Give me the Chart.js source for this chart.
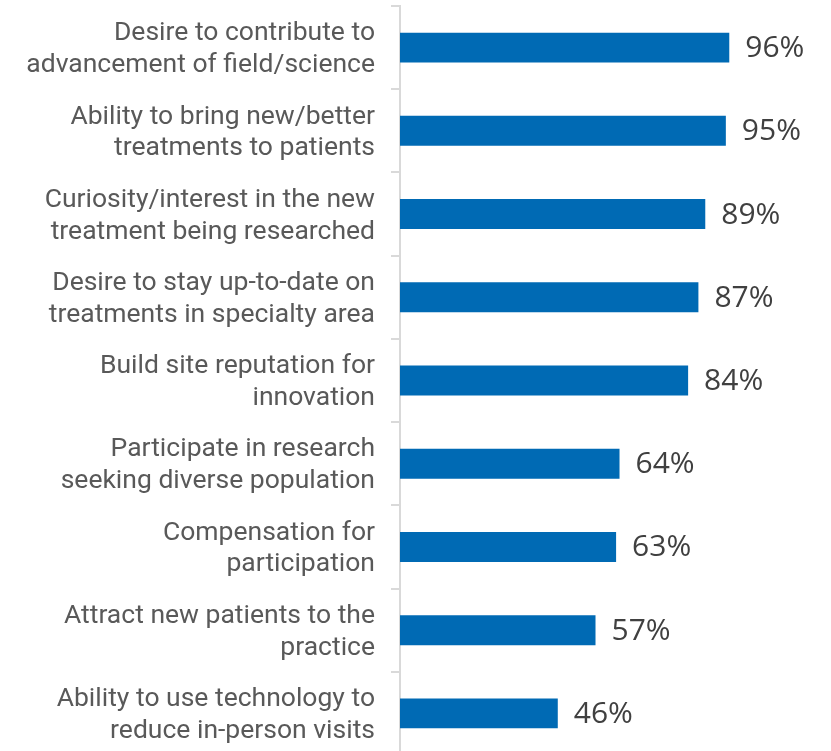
<!DOCTYPE html>
<html>
<head>
<meta charset="utf-8">
<script src="https://cdn.jsdelivr.net/npm/chart.js@4/dist/chart.umd.min.js"></script>
<style>
  html, body { margin: 0; padding: 0; background: #fff; overflow: hidden; }
  #wrap { width: 831px; height: 755px; position: relative; }
</style>
</head>
<body>
<div id="wrap"><canvas id="chartMotivos"></canvas></div>
<script>
const categories = [
  ['Desire to contribute to', 'advancement of field/science'],
  ['Ability to bring new/better', 'treatments to patients'],
  ['Curiosity/interest in the new', 'treatment being researched'],
  ['Desire to stay up-to-date on', 'treatments in specialty area'],
  ['Build site reputation for', 'innovation'],
  ['Participate in research', 'seeking diverse population'],
  ['Compensation for', 'participation'],
  ['Attract new patients to the', 'practice'],
  ['Ability to use technology to', 'reduce in-person visits']
];
const values = [96, 95, 89, 87, 84, 64, 63, 57, 46];

// labels at the end of each bar
const barLabels = {
  id: 'barLabels',
  afterDatasetsDraw(chart) {
    const ctx = chart.ctx;
    const meta = chart.getDatasetMeta(0);
    ctx.save();
    ctx.font = '30px "Open Sans", sans-serif';
    ctx.fillStyle = '#404040';
    ctx.textAlign = 'left';
    ctx.textBaseline = 'middle';
    meta.data.forEach((bar, i) => {
      ctx.fillText(values[i] + '%', bar.x + 16, bar.y + 1);
    });
    ctx.restore();
  }
};

const ctx = document.getElementById('chartMotivos');
new Chart(ctx.getContext('2d'), {
  type: 'bar',
  data: {
    labels: categories,
    datasets: [{
      data: values,
      backgroundColor: '#006AB4',
      barPercentage: 0.36,
      categoryPercentage: 1
    }]
  },
  options: {
    indexAxis: 'y',
    responsive: true,
    maintainAspectRatio: false,
    animation: false,
    layout: { padding: { top: 6, right: 88, bottom: 0, left: 0 } },
    plugins: { legend: { display: false }, tooltip: { enabled: false } },
    scales: {
      x: { display: false, min: 0, max: 100 },
      y: {
        offset: true,
        grid: { offset: true, drawOnChartArea: false, drawTicks: true, tickLength: 9, color: '#d9d9d9', lineWidth: 2 },
        border: { display: true, color: '#d9d9d9', width: 2 },
        ticks: {
          padding: 16,
          labelOffset: 2,
          color: '#595959',
          font: { family: 'Roboto', size: 26.5, lineHeight: 1.2 }
        },
        afterFit(scale) {
          scale.width = 400;
          scale.paddingTop = 0;
          scale.paddingBottom = 0;
        }
      }
    }
  },
  plugins: [barLabels]
});
</script>
</body>
</html>
